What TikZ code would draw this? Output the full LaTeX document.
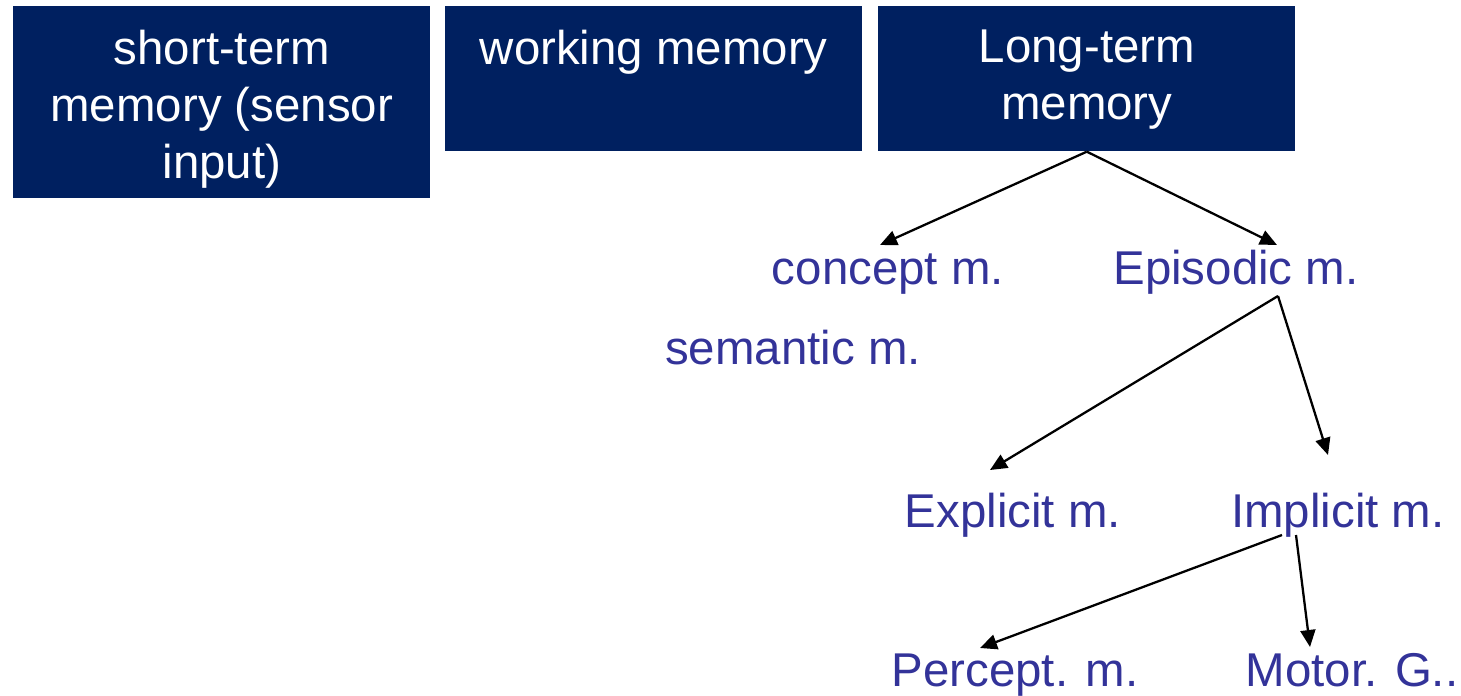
\documentclass[tikz,border=0pt]{standalone}
\usepackage{fontspec}
\setmainfont{Liberation Sans}
\usetikzlibrary{arrows.meta,calc}
\definecolor{navy}{RGB}{0,32,96}
\definecolor{labelblue}{RGB}{51,51,153}
\begin{document}
\begin{tikzpicture}[
    x=0.02cm, y=-0.02cm,
    membox/.style={fill=navy, minimum width=8.34cm, anchor=north west, inner sep=0},
    memtext/.style={text=white, align=center, anchor=north, inner sep=0, font=\fontsize{27}{32.4}\selectfont},
    lbl/.style={text=labelblue, anchor=base, inner sep=0, font=\fontsize{27}{32.4}\selectfont},
    arr/.style={-{Triangle[length=0.34cm,width=0.3cm]}, line width=1.3pt}
]
\useasboundingbox (0,0) rectangle (1461,696);
\node[membox, minimum height=3.84cm] (stm) at (13,6) {};
\node[membox, minimum height=2.9cm] (wm) at (445,6) {};
\node[membox, minimum height=2.9cm] (ltm) at (878,6) {};
\node[memtext] (stmtext) at ($(stm.north)+(0,24)$) {short-term\\memory (sensor\\input)};
\node[memtext] (wmtext) at ($(wm.north)+(0,24)$) {working memory};
\node[memtext] (ltmtext) at ($(ltm.north)+(0,24)$) {Long-term\\memory};

\node[lbl] (concept) at (888,284) {concept m.};
\node[lbl] (episodic) at (1236,284) {Episodic m.};
\node[lbl] (semantic) at (793,364) {semantic m.};
\node[lbl] (explicit) at (1013,527) {Explicit m.};
\node[lbl] (implicit) at (1338,527) {Implicit m.};
\node[lbl] (percept) at (1015,686) {Percept. m.};
\node[lbl] (motor) at (1352,686) {Motor. G..};

\draw[arr] (ltm.south) -- ($(concept.base)+(-8,-39)$);
\draw[arr] (ltm.south) -- ($(episodic.base)+(41,-39)$);
\draw[arr] ($(episodic.base)+(42,12)$) -- ($(explicit.base)+(-23,-57)$);
\draw[arr] ($(episodic.base)+(42,12)$) -- ($(implicit.base)+(-10,-72)$);
\draw[arr] ($(implicit.base)+(-56,8)$) -- ($(percept.base)+(-35,-38)$);
\draw[arr] ($(implicit.base)+(-42,8)$) -- ($(motor.base)+(-42,-39)$);
\end{tikzpicture}
\end{document}
